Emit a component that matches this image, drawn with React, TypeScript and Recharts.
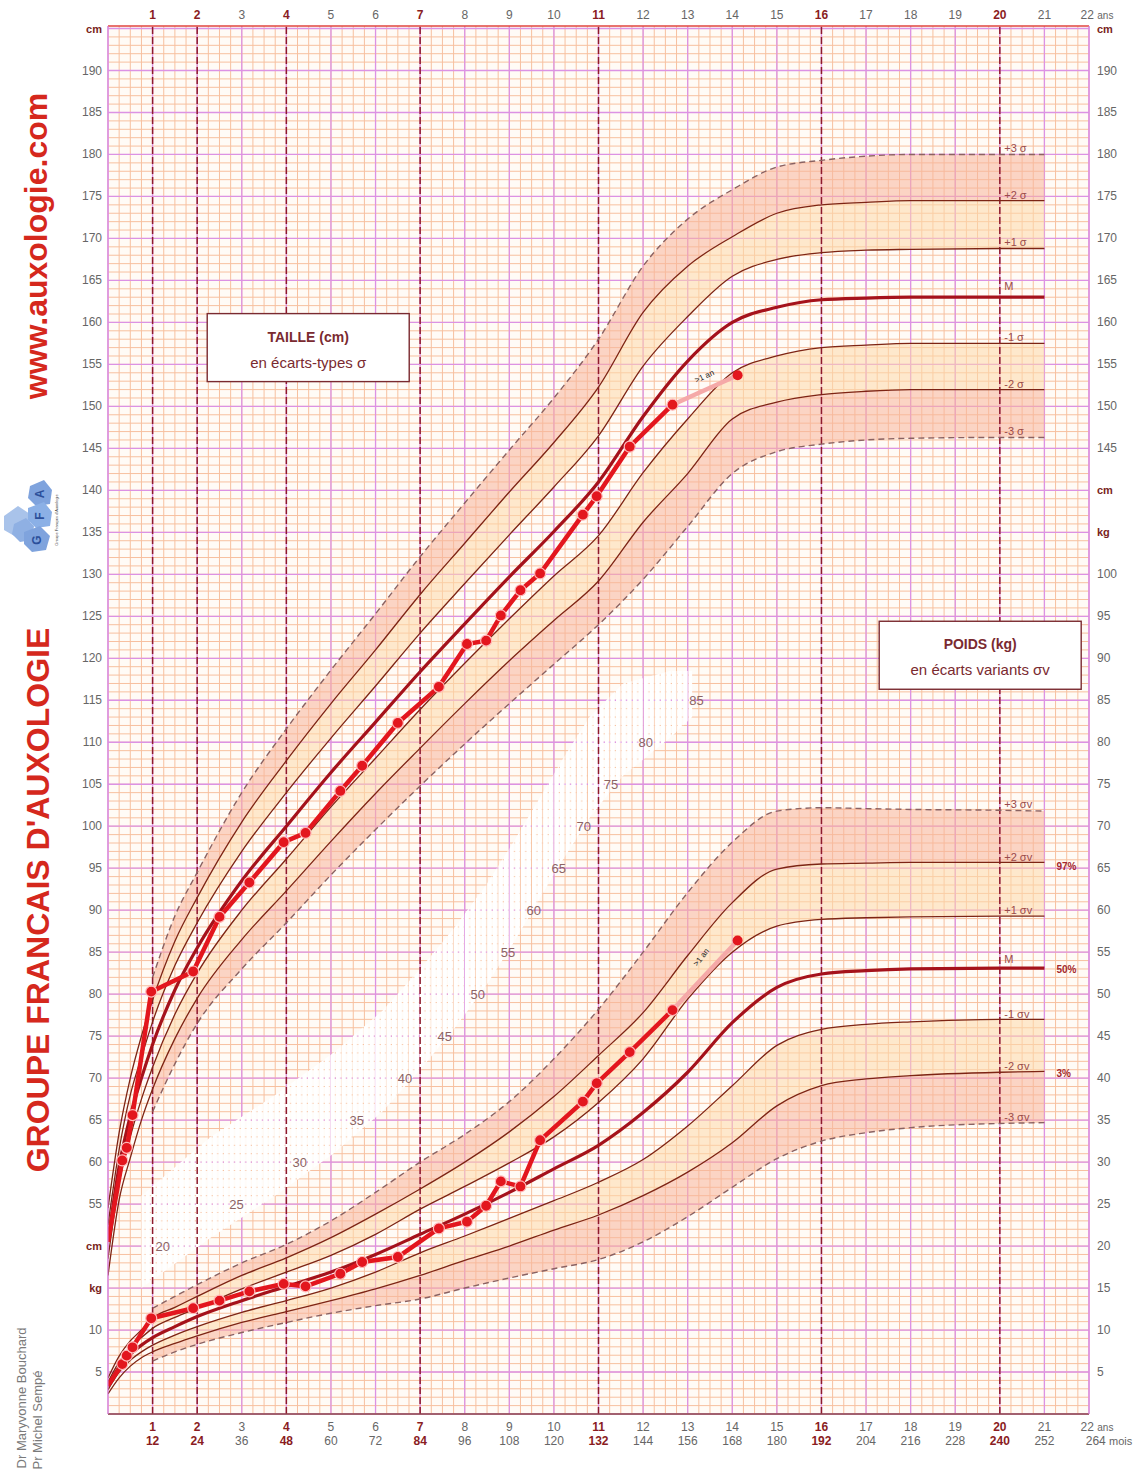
import React from 'react';
import {
  Area,
  CartesianGrid,
  ComposedChart,
  Line,
  ReferenceLine,
  Scatter,
  XAxis,
  YAxis,
} from 'recharts';

const FONT = '"Liberation Sans", Arial, Helvetica, sans-serif';

// ages (years) of the reference curves
const AGES = [0, 0.25, 0.5, 0.75, 1, 1.5, 2, 3, 4, 5, 6, 7, 8, 9, 10, 11, 12, 13, 14, 15, 16, 17, 18, 20, 21];

// height (cm) : -3σ .. +3σ
const HT_M3 = [null, null, null, null, 66, 71.7, 76.5, 83, 88.5, 94.2, 99.6, 104.8, 109.8, 114.6, 119.3, 124, 129.4, 135.7, 142, 144.6, 145.5, 146, 146.2, 146.3, 146.3];
const HT_M2 = [46.5, 55.5, 60.5, 65, 68.7, 74.7, 79.5, 86.5, 92.3, 98.2, 103.9, 109.3, 114.6, 119.7, 124.5, 129.2, 136.2, 142, 148.5, 150.5, 151.4, 151.8, 152, 152, 152];
const HT_M1 = [48.5, 57.5, 63, 67.5, 71.3, 77.6, 82.5, 90, 96.1, 102.3, 108.1, 113.9, 119.4, 124.7, 129.8, 134.6, 142.1, 148.5, 154, 156, 157, 157.3, 157.5, 157.5, 157.5];
const HT_M = [50.5, 59.5, 65.5, 70, 74, 80.5, 85.5, 93.5, 100, 106.4, 112.4, 118.4, 124.1, 129.7, 135.1, 141, 148.8, 155.4, 160, 161.8, 162.7, 162.9, 163, 163, 163];
const HT_P1 = [52.5, 61.5, 68, 72.5, 76.7, 83.4, 88.5, 97, 104, 110.5, 116.7, 123, 128.9, 134.7, 140.4, 146.5, 154.8, 160.7, 165.5, 167.5, 168.3, 168.6, 168.7, 168.8, 168.8];
const HT_P2 = [54.5, 63.5, 70, 75, 79.3, 86.3, 91.5, 100.5, 107.8, 114.6, 121, 127.6, 133.7, 139.8, 145.7, 152.3, 161.2, 166.7, 170.2, 173, 174, 174.3, 174.5, 174.5, 174.5];
const HT_P3 = [null, null, null, null, 82, 89.3, 94.5, 104, 111.6, 118.6, 125.3, 132.1, 138.5, 144.8, 151, 158, 166.7, 172.3, 175.8, 178.5, 179.3, 179.8, 180, 180, 180];

// weight (kg) : -3σv .. +3σv
const WT_M3 = [null, null, null, null, 6.3, 7.4, 8.3, 9.7, 10.9, 12.0, 12.9, 13.7, 15.0, 16.2, 17.3, 18.4, 20.5, 23.5, 27.0, 30.4, 32.5, 33.5, 34.1, 34.6, 34.7];
const WT_M2 = [2.4, 4.3, 5.7, 6.7, 7.4, 8.4, 9.3, 10.9, 12.2, 13.5, 14.9, 16.5, 18.3, 20.0, 21.9, 23.7, 26.0, 28.8, 32.3, 36.7, 39.1, 39.9, 40.3, 40.7, 40.8];
const WT_M1 = [2.9, 5.0, 6.4, 7.4, 8.2, 9.4, 10.4, 12.1, 13.5, 15.0, 16.9, 19.2, 21.2, 23.3, 25.4, 27.6, 30.3, 34.3, 39.1, 43.9, 45.8, 46.4, 46.7, 47.0, 47.0];
const WT_M = [3.3, 5.6, 7.1, 8.2, 9.1, 10.4, 11.6, 13.5, 15.2, 16.9, 19.0, 21.4, 23.8, 26.4, 29.2, 32.0, 35.9, 40.7, 46.6, 50.8, 52.4, 52.8, 53.0, 53.1, 53.1];
const WT_P1 = [3.8, 6.2, 7.9, 9.1, 10.2, 11.5, 12.6, 14.9, 16.9, 18.9, 21.4, 24.4, 27.1, 29.9, 33.0, 37.1, 42.3, 49.4, 55.0, 58.1, 58.9, 59.1, 59.2, 59.3, 59.3];
const WT_P2 = [4.3, 6.9, 8.7, 10.0, 11.4, 12.7, 14.0, 16.5, 18.6, 21.0, 23.8, 26.8, 30.0, 33.6, 37.8, 42.7, 47.8, 54.6, 60.9, 64.9, 65.5, 65.6, 65.7, 65.7, 65.7];
const WT_P3 = [null, null, null, null, 12.6, 14.0, 15.4, 18.0, 20.2, 23.0, 26.4, 30.0, 33.3, 37.2, 42.3, 48.2, 55.0, 62.1, 68.1, 71.8, 72.2, 72.1, 72.0, 71.9, 71.8];

// the child's measurements
const VISIT_AGES = [0, 0.32, 0.42, 0.55, 0.97, 1.91, 2.5, 3.17, 3.94, 4.43, 5.21, 5.7, 6.5, 7.42, 8.05, 8.48, 8.81, 9.25, 9.69, 10.65, 10.96, 11.7, 12.66];
const CHILD_HT = [50.5, 60.2, 61.7, 65.6, 80.3, 82.7, 89.2, 93.3, 98.1, 99.2, 104.2, 107.2, 112.3, 116.6, 121.7, 122.1, 125.1, 128.1, 130.1, 137.1, 139.3, 145.2, 150.2];
const CHILD_WT = [3.4, 5.95, 6.95, 7.94, 11.4, 12.6, 13.5, 14.6, 15.5, 15.2, 16.7, 18.1, 18.7, 22.1, 22.9, 24.8, 27.7, 27.1, 32.6, 37.2, 39.4, 43.1, 48.1];
const LATE_AGES = [12.66, 14.12];
const LATE_HT = [150.2, 153.7];
const LATE_WT = [48.1, 56.4];

// diagonal hatched scale
const HATCH_AGES = [0.75, 2.3, 3.75, 5.05, 6.15, 7.0, 7.78, 8.48, 9.08, 9.64, 10.2, 10.8, 11.55, 12.6, 13.1];
const HATCH_LOW = [45, 51, 56, 61, 66, 71, 76, 81, 86, 91, 96, 101, 106, 110.5, 113];
const HATCH_HIGH = [56, 63, 68, 73, 78, 83, 88, 93, 98, 103, 108, 113, 117, 118.5, 118.5];
const HATCH_LABELS = [20, 25, 30, 35, 40, 45, 50, 55, 60, 65, 70, 75, 80, 85];
const HATCH_LABEL_AGES = [1.23, 2.88, 4.3, 5.58, 6.66, 7.55, 8.29, 8.97, 9.55, 10.11, 10.67, 11.28, 12.06, 13.2];

// curve end labels
const HT_SD_LABELS = ['+3 σ', '+2 σ', '+1 σ', 'M', '-1 σ', '-2 σ', '-3 σ'];
const HT_SD_LABEL_CM = [180.8, 175.2, 169.6, 164.3, 158.3, 152.7, 147.1];
const WT_SD_LABELS = ['+3 σv', '+2 σv', '+1 σv', 'M', '-1 σv', '-2 σv', '-3 σv'];
const WT_SD_LABEL_KG = [72.6, 66.3, 60.0, 54.2, 47.6, 41.4, 35.4];
const PCT_LABELS = ['97%', '50%', '3%'];
const PCT_LABEL_KG = [65.2, 52.9, 40.5];

const BOLD_AGES = [1, 2, 4, 7, 11, 16, 20];
const AGE_TICKS = Array.from({ length: 22 }, (_, i) => i + 1);
const CM_TICKS = Array.from({ length: 33 }, (_, i) => 35 + i * 5);
const MINOR_X = Array.from({ length: 89 }, (_, i) => i * 0.25);
const MINOR_Y = Array.from({ length: 166 }, (_, i) => 30 + i);
const MAJOR_X = Array.from({ length: 23 }, (_, i) => i);
const MAJOR_Y = Array.from({ length: 34 }, (_, i) => 30 + i * 5);

const curveRows = AGES.map((age, i) => ({
  age,
  hM3: HT_M3[i], hM2: HT_M2[i], hM1: HT_M1[i], hM: HT_M[i], hP1: HT_P1[i], hP2: HT_P2[i], hP3: HT_P3[i],
  wM3: WT_M3[i], wM2: WT_M2[i], wM1: WT_M1[i], wM: WT_M[i], wP1: WT_P1[i], wP2: WT_P2[i], wP3: WT_P3[i],
}));

const bandRows = curveRows
  .filter((r) => r.age >= 1)
  .map((r) => ({
    age: r.age,
    h23: [r.hP2, r.hP3], h12: [r.hP1, r.hP2], hn12: [r.hM2, r.hM1], hn23: [r.hM3, r.hM2],
    w23: [r.wP2, r.wP3], w12: [r.wP1, r.wP2], wn12: [r.wM2, r.wM1], wn23: [r.wM3, r.wM2],
  }));

const childRows = VISIT_AGES.map((age, i) => ({ age, ht: CHILD_HT[i], wt: CHILD_WT[i] }));
const lateRows = LATE_AGES.map((age, i) => ({ age, ht: LATE_HT[i], wt: LATE_WT[i] }));
const hatchRows = HATCH_AGES.map((age, i) => ({ age, band: [HATCH_LOW[i], HATCH_HIGH[i]] }));
const hatchLabelRows = HATCH_LABELS.map((v, i) => ({ age: HATCH_LABEL_AGES[i], v, text: String(v) }));
const htLabelRows = HT_SD_LABELS.map((text, i) => ({ age: 20.1, v: HT_SD_LABEL_CM[i], text }));
const wtLabelRows = WT_SD_LABELS.map((text, i) => ({ age: 20.1, v: WT_SD_LABEL_KG[i], text }));
const pctRows = PCT_LABELS.map((text, i) => ({ age: 21.27, v: PCT_LABEL_KG[i], text }));
const boxRows = [
  { age: 4.49, v: 157.0, title: 'TAILLE (cm)', sub: 'en écarts-types σ' },
  { age: 19.56, v: 120.36, title: 'POIDS (kg)', sub: 'en écarts variants σv' },
];

const SALMON = '#f8b49a';
const PEACH = '#fdd8aa';
const THIN = '#7d2414';
const MEDIAN = '#a5121b';
const DASH = '#8a6262';
const CHILD = '#e3161e';
const DARKRED = '#8a1c22';

const textShape = (size: number, color: string, weight = 400, anchor = 'start') => (p: any) => (
  <text
    x={p.cx}
    y={p.cy}
    dy={size * 0.35}
    textAnchor={anchor}
    fontSize={size}
    fontWeight={weight}
    fill={color}
    fontFamily={FONT}
  >
    {p.payload.text}
  </text>
);

const boxShape = (p: any) => (
  <g fontFamily={FONT} fill="#7a2a30">
    <rect x={p.cx - 101} y={p.cy - 34} width={202} height={68} fill="#ffffff" stroke="#7a2a30" strokeWidth={1.4} />
    <text x={p.cx} y={p.cy - 6} textAnchor="middle" fontSize={14} fontWeight={700}>{p.payload.title}</text>
    <text x={p.cx} y={p.cy + 20} textAnchor="middle" fontSize={15}>{p.payload.sub}</text>
  </g>
);

const rotatedText = (angle: number) => (p: any) => (
  <text
    x={p.cx}
    y={p.cy}
    textAnchor="middle"
    fontSize={8}
    fill="#222"
    fontFamily={FONT}
    transform={`rotate(${angle}, ${p.cx}, ${p.cy})`}
  >
    &gt;1 an
  </text>
);

const childDot = (p: any) => {
  if (p.index === 0) return <g key={`cd-${p.index}`} />;
  return <circle key={`cd-${p.index}`} cx={p.cx} cy={p.cy} r={5.5} fill={CHILD} stroke="#ffb9b9" strokeWidth={1.2} />;
};

const lateDot = (p: any) => {
  if (p.index === 0) return <g key={`ld-${p.index}`} />;
  return <circle key={`ld-${p.index}`} cx={p.cx} cy={p.cy} r={5} fill={CHILD} />;
};

function TopTick({ x, y, payload }: any) {
  const v = payload.value;
  const bold = BOLD_AGES.includes(v);
  if (v === 22) {
    return (
      <text x={x + 8} y={y - 7} textAnchor="middle" fontSize={12} fill="#666" fontFamily={FONT}>
        22 <tspan fontSize={10}>ans</tspan>
      </text>
    );
  }
  return (
    <text x={x} y={y - 7} textAnchor="middle" fontSize={12} fontWeight={bold ? 700 : 400} fill={bold ? DARKRED : '#666'} fontFamily={FONT}>
      {v}
    </text>
  );
}

function BottomTick({ x, y, payload }: any) {
  const v = payload.value;
  const bold = BOLD_AGES.includes(v);
  const color = bold ? DARKRED : '#666';
  if (v === 22) {
    return (
      <g fontFamily={FONT} fill="#666" fontSize={12}>
        <text x={x + 8} y={y + 17} textAnchor="middle">22 <tspan fontSize={10}>ans</tspan></text>
        <text x={x + 20} y={y + 31} textAnchor="middle">264 <tspan fontSize={11}>mois</tspan></text>
      </g>
    );
  }
  return (
    <g fontFamily={FONT} fontSize={12} fontWeight={bold ? 700 : 400} fill={color}>
      <text x={x} y={y + 17} textAnchor="middle">{v}</text>
      <text x={x} y={y + 31} textAnchor="middle">{v * 12}</text>
    </g>
  );
}

function LeftTick({ x, y, payload }: any) {
  const v = payload.value;
  const unit = v === 195 || v === 50 ? 'cm' : v === 45 ? 'kg' : null;
  const label = unit ?? (v === 40 ? '10' : v === 35 ? '5' : String(v));
  return (
    <text x={x - 6} y={y + 4} textAnchor="end" fontSize={unit ? 11 : 12} fontWeight={unit ? 700 : 400} fill={unit ? '#7a1f22' : '#666'} fontFamily={FONT}>
      {label}
    </text>
  );
}

function RightTick({ x, y, payload }: any) {
  const v = payload.value;
  const unit = v === 195 || v === 140 ? 'cm' : v === 135 ? 'kg' : null;
  const label = unit ?? (v <= 130 ? String(v - 30) : String(v));
  return (
    <text x={x + 8} y={y + 4} textAnchor="start" fontSize={unit ? 11 : 12} fontWeight={unit ? 700 : 400} fill={unit ? '#7a1f22' : '#666'} fontFamily={FONT}>
      {label}
    </text>
  );
}

function Logo() {
  return (
    <svg width={70} height={90} style={{ position: 'absolute', left: 0, top: 472 }}>
      <polygon points="4,44 18,34 30,42 30,60 18,66 4,58" fill="#a9c3ea" />
      <polygon points="14,52 26,46 34,54 32,68 20,70 12,62" fill="#8fb0e3" />
      <polygon points="30,14 44,8 52,18 50,32 36,34 28,26" fill="#7fa3dd" />
      <polygon points="28,36 44,30 52,40 50,54 36,56 28,48" fill="#8bb0e6" />
      <polygon points="24,60 40,54 50,64 46,78 32,80 24,72" fill="#7fa3dd" />
      <text x={40} y={26} fontSize={12} fontWeight={700} fill="#2b4f9a" fontFamily={FONT} transform="rotate(-90 40 22)" textAnchor="middle">A</text>
      <text x={40} y={48} fontSize={12} fontWeight={700} fill="#2b4f9a" fontFamily={FONT} transform="rotate(-90 40 44)" textAnchor="middle">F</text>
      <text x={37} y={72} fontSize={12} fontWeight={700} fill="#2b4f9a" fontFamily={FONT} transform="rotate(-90 37 68)" textAnchor="middle">G</text>
      <text x={58} y={48} fontSize={4} fill="#444" fontFamily={FONT} transform="rotate(-90 58 48)" textAnchor="middle">Groupe Français d'Auxologie</text>
    </svg>
  );
}

const vertical = (text: string, cx: number, cy: number, style: React.CSSProperties) => (
  <div
    style={{
      position: 'absolute',
      left: cx,
      top: cy,
      transform: 'translate(-50%, -50%) rotate(-90deg)',
      whiteSpace: 'nowrap',
      fontFamily: FONT,
      lineHeight: 1,
      ...style,
    }}
  >
    {text}
  </div>
);

export default function App() {
  return (
    <div style={{ position: 'absolute', left: 0, top: 0, width: 1135, height: 1479, background: '#fff', overflow: 'hidden' }}>
      {vertical('www.auxologie.com', 36, 246, { fontSize: 32, fontWeight: 700, color: '#d5281d' })}
      {vertical("GROUPE FRANCAIS D'AUXOLOGIE", 38, 900, { fontSize: 32, fontWeight: 700, color: '#d5281d' })}
      {vertical('Dr Maryvonne Bouchard', 21, 1398, { fontSize: 13, color: '#7a7a7a' })}
      {vertical('Pr Michel Sempé', 37, 1420, { fontSize: 13, color: '#7a7a7a' })}
      <Logo />
      <div style={{ position: 'absolute', left: 0, top: 0 }}>
        <ComposedChart width={1135} height={1479} data={curveRows} margin={{ top: 0, right: 0, bottom: 0, left: 0 }}>
          <defs>
            <pattern id="hatch" width={5.6} height={10} patternUnits="userSpaceOnUse">
              <rect x={0} y={0} width={4.4} height={10} fill="#ffffff" />
            </pattern>
          </defs>
          <XAxis
            xAxisId="b"
            dataKey="age"
            type="number"
            domain={[0, 22]}
            ticks={AGE_TICKS}
            interval={0}
            height={65}
            tickSize={0}
            tickMargin={0}
            tick={(p: any) => <BottomTick {...p} />}
            axisLine={{ stroke: '#8c4a4a', strokeWidth: 1.5 }}
            allowDataOverflow
          />
          <XAxis
            xAxisId="t"
            orientation="top"
            dataKey="age"
            type="number"
            domain={[0, 22]}
            ticks={AGE_TICKS}
            interval={0}
            height={26}
            tickSize={0}
            tickMargin={0}
            tick={(p: any) => <TopTick {...p} />}
            axisLine={{ stroke: '#e0463f', strokeWidth: 1.5 }}
            allowDataOverflow
          />
          <YAxis
            yAxisId="cm"
            type="number"
            domain={[30, 195.3]}
            ticks={CM_TICKS}
            interval={0}
            width={108}
            tickSize={0}
            tickMargin={0}
            tick={(p: any) => <LeftTick {...p} />}
            axisLine={{ stroke: '#d98be3' }}
            allowDataOverflow
          />
          <YAxis
            yAxisId="r"
            orientation="right"
            type="number"
            domain={[30, 195.3]}
            ticks={CM_TICKS}
            interval={0}
            width={46}
            tickSize={0}
            tickMargin={0}
            tick={(p: any) => <RightTick {...p} />}
            axisLine={{ stroke: '#d98be3' }}
            allowDataOverflow
          />
          <YAxis yAxisId="kg" hide type="number" domain={[0, 165.3]} allowDataOverflow />

          <CartesianGrid
            xAxisId="b"
            yAxisId="cm"
            fill="#fffbf6"
            stroke="#f7c09f"
            strokeWidth={1}
            verticalValues={MINOR_X}
            horizontalValues={MINOR_Y}
          />
          <CartesianGrid
            xAxisId="b"
            yAxisId="cm"
            stroke="#dc92e4"
            strokeWidth={1.3}
            verticalValues={MAJOR_X}
            horizontalValues={MAJOR_Y}
          />

          {/* height bands */}
          <Area xAxisId="b" yAxisId="cm" data={bandRows} dataKey="h23" type="monotone" stroke="none" fill={SALMON} fillOpacity={0.55} isAnimationActive={false} />
          <Area xAxisId="b" yAxisId="cm" data={bandRows} dataKey="h12" type="monotone" stroke="none" fill={PEACH} fillOpacity={0.55} isAnimationActive={false} />
          <Area xAxisId="b" yAxisId="cm" data={bandRows} dataKey="hn12" type="monotone" stroke="none" fill={PEACH} fillOpacity={0.55} isAnimationActive={false} />
          <Area xAxisId="b" yAxisId="cm" data={bandRows} dataKey="hn23" type="monotone" stroke="none" fill={SALMON} fillOpacity={0.55} isAnimationActive={false} />
          {/* weight bands */}
          <Area xAxisId="b" yAxisId="kg" data={bandRows} dataKey="w23" type="monotone" stroke="none" fill={SALMON} fillOpacity={0.55} isAnimationActive={false} />
          <Area xAxisId="b" yAxisId="kg" data={bandRows} dataKey="w12" type="monotone" stroke="none" fill={PEACH} fillOpacity={0.55} isAnimationActive={false} />
          <Area xAxisId="b" yAxisId="kg" data={bandRows} dataKey="wn12" type="monotone" stroke="none" fill={PEACH} fillOpacity={0.55} isAnimationActive={false} />
          <Area xAxisId="b" yAxisId="kg" data={bandRows} dataKey="wn23" type="monotone" stroke="none" fill={SALMON} fillOpacity={0.55} isAnimationActive={false} />

          {/* hatched scale */}
          <Area xAxisId="b" yAxisId="cm" data={hatchRows} dataKey="band" type="linear" stroke="none" fill="url(#hatch)" fillOpacity={1} isAnimationActive={false} />
          <Scatter xAxisId="b" yAxisId="kg" data={hatchLabelRows} dataKey="v" shape={textShape(13, '#8c6464', 400, 'middle')} isAnimationActive={false} />

          {BOLD_AGES.map((a) => (
            <ReferenceLine key={a} xAxisId="b" yAxisId="cm" x={a} stroke="#8e1b2c" strokeWidth={1.5} strokeDasharray="7 3" />
          ))}

          {/* height curves */}
          <Line xAxisId="b" yAxisId="cm" dataKey="hP3" type="monotone" stroke={DASH} strokeWidth={1.4} strokeDasharray="6 4" dot={false} isAnimationActive={false} />
          <Line xAxisId="b" yAxisId="cm" dataKey="hP2" type="monotone" stroke={THIN} strokeWidth={1.3} dot={false} isAnimationActive={false} />
          <Line xAxisId="b" yAxisId="cm" dataKey="hP1" type="monotone" stroke={THIN} strokeWidth={1.3} dot={false} isAnimationActive={false} />
          <Line xAxisId="b" yAxisId="cm" dataKey="hM1" type="monotone" stroke={THIN} strokeWidth={1.3} dot={false} isAnimationActive={false} />
          <Line xAxisId="b" yAxisId="cm" dataKey="hM2" type="monotone" stroke={THIN} strokeWidth={1.3} dot={false} isAnimationActive={false} />
          <Line xAxisId="b" yAxisId="cm" dataKey="hM3" type="monotone" stroke={DASH} strokeWidth={1.4} strokeDasharray="6 4" dot={false} isAnimationActive={false} />
          <Line xAxisId="b" yAxisId="cm" dataKey="hM" type="monotone" stroke={MEDIAN} strokeWidth={3.2} dot={false} isAnimationActive={false} />

          {/* weight curves */}
          <Line xAxisId="b" yAxisId="kg" dataKey="wP3" type="monotone" stroke={DASH} strokeWidth={1.4} strokeDasharray="6 4" dot={false} isAnimationActive={false} />
          <Line xAxisId="b" yAxisId="kg" dataKey="wP2" type="monotone" stroke={THIN} strokeWidth={1.3} dot={false} isAnimationActive={false} />
          <Line xAxisId="b" yAxisId="kg" dataKey="wP1" type="monotone" stroke={THIN} strokeWidth={1.3} dot={false} isAnimationActive={false} />
          <Line xAxisId="b" yAxisId="kg" dataKey="wM1" type="monotone" stroke={THIN} strokeWidth={1.3} dot={false} isAnimationActive={false} />
          <Line xAxisId="b" yAxisId="kg" dataKey="wM2" type="monotone" stroke={THIN} strokeWidth={1.3} dot={false} isAnimationActive={false} />
          <Line xAxisId="b" yAxisId="kg" dataKey="wM3" type="monotone" stroke={DASH} strokeWidth={1.4} strokeDasharray="6 4" dot={false} isAnimationActive={false} />
          <Line xAxisId="b" yAxisId="kg" dataKey="wM" type="monotone" stroke={MEDIAN} strokeWidth={3.2} dot={false} isAnimationActive={false} />

          {/* child */}
          <Line xAxisId="b" yAxisId="cm" data={lateRows} dataKey="ht" type="linear" stroke="#f5a9a8" strokeWidth={4.5} dot={lateDot} isAnimationActive={false} />
          <Line xAxisId="b" yAxisId="kg" data={lateRows} dataKey="wt" type="linear" stroke="#f5a9a8" strokeWidth={4.5} dot={lateDot} isAnimationActive={false} />
          <Line xAxisId="b" yAxisId="cm" data={childRows} dataKey="ht" type="linear" stroke={CHILD} strokeWidth={4.5} dot={childDot} isAnimationActive={false} />
          <Line xAxisId="b" yAxisId="kg" data={childRows} dataKey="wt" type="linear" stroke={CHILD} strokeWidth={4.5} dot={childDot} isAnimationActive={false} />

          {/* labels */}
          <Scatter xAxisId="b" yAxisId="cm" data={boxRows} dataKey="v" shape={boxShape} isAnimationActive={false} />
          <Scatter xAxisId="b" yAxisId="cm" data={htLabelRows} dataKey="v" shape={textShape(11, '#9a4a4a')} isAnimationActive={false} />
          <Scatter xAxisId="b" yAxisId="kg" data={wtLabelRows} dataKey="v" shape={textShape(11, '#9a4a4a')} isAnimationActive={false} />
          <Scatter xAxisId="b" yAxisId="kg" data={pctRows} dataKey="v" shape={textShape(10, '#a4282c', 700)} isAnimationActive={false} />
          <Scatter xAxisId="b" yAxisId="cm" data={[{ age: 13.4, v: 153.3 }]} dataKey="v" shape={rotatedText(-25)} isAnimationActive={false} />
          <Scatter xAxisId="b" yAxisId="kg" data={[{ age: 13.35, v: 54.2 }]} dataKey="v" shape={rotatedText(-52)} isAnimationActive={false} />
        </ComposedChart>
      </div>
    </div>
  );
}
